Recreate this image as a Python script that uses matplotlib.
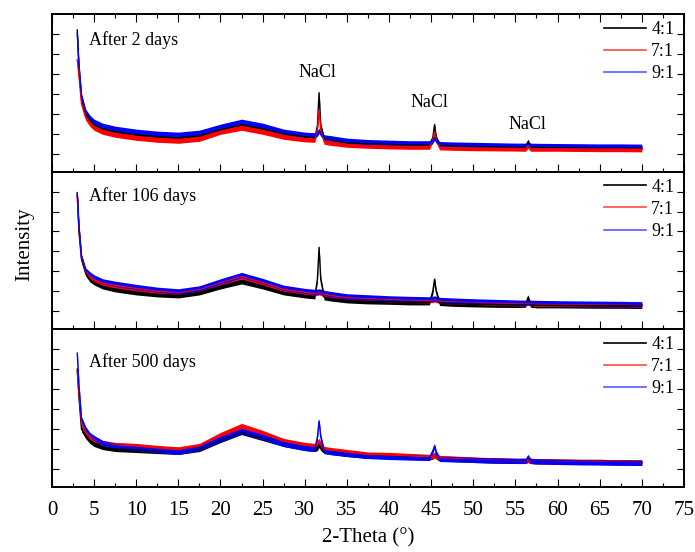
import matplotlib
matplotlib.use("Agg")
import matplotlib.pyplot as plt
from matplotlib.lines import Line2D
from matplotlib.ticker import MultipleLocator

plt.rcParams["font.family"] = ["Liberation Serif", "DejaVu Serif"]

two_theta = [3.0, 3.2, 3.5, 4.0, 4.5, 5, 6, 7.5, 10, 12.5, 15, 17.5, 20, 22.5, 25, 27.5,
             30, 31.2, 31.5, 31.7, 31.9, 32.3, 33, 35, 37.5, 40, 42.5, 44.8, 45.2, 45.4,
             45.6, 46, 47.5, 50, 52.5, 55, 56.2, 56.5, 56.8, 57.5, 60, 62.5, 65, 67.5, 70]

labels = ["4:1", "7:1", "9:1"]
colors = ["black", "red", "blue"]
legend_colors = ["black", "#ff4a4a", "#5a5aff"]
panel_titles = ["After 2 days", "After 106 days", "After 500 days"]

# After 2 days
d2_41 = [7.2, 5.2, 3.8, 3.0, 2.7, 2.45, 2.25, 2.1, 1.95, 1.85, 1.8, 1.9, 2.2, 2.45, 2.25, 2.0,
         1.85, 1.8, 2.4, 4.05, 2.4, 1.75, 1.7, 1.55, 1.5, 1.48, 1.45, 1.45, 1.8, 2.45,
         1.8, 1.42, 1.4, 1.38, 1.35, 1.33, 1.33, 1.6, 1.33, 1.32, 1.3, 1.3, 1.28, 1.28, 1.27]
d2_71 = [5.7, 4.9, 3.5, 2.8, 2.5, 2.3, 2.1, 1.95, 1.8, 1.7, 1.65, 1.75, 2.1, 2.3, 2.1, 1.85,
         1.72, 1.7, 2.2, 3.2, 2.2, 1.6, 1.55, 1.45, 1.4, 1.37, 1.35, 1.35, 1.7, 2.1,
         1.7, 1.32, 1.3, 1.28, 1.27, 1.26, 1.25, 1.4, 1.25, 1.25, 1.25, 1.24, 1.23, 1.23, 1.22]
d2_91 = [7.0, 5.5, 3.9, 3.1, 2.8, 2.6, 2.4, 2.25, 2.1, 2.0, 1.95, 2.05, 2.35, 2.6, 2.4, 2.1,
         1.95, 1.92, 2.0, 2.15, 2.0, 1.82, 1.78, 1.65, 1.58, 1.55, 1.52, 1.52, 1.65, 1.8,
         1.65, 1.48, 1.46, 1.44, 1.42, 1.4, 1.4, 1.45, 1.4, 1.39, 1.38, 1.37, 1.36, 1.36, 1.35]

# After 106 days
d106_41 = [6.9, 5.0, 3.6, 2.9, 2.6, 2.45, 2.25, 2.1, 1.95, 1.85, 1.8, 1.95, 2.25, 2.5, 2.25, 1.95,
           1.8, 1.75, 2.6, 4.2, 2.6, 1.7, 1.65, 1.55, 1.5, 1.48, 1.45, 1.45, 2.0, 2.6,
           2.0, 1.42, 1.38, 1.35, 1.33, 1.32, 1.33, 1.7, 1.33, 1.3, 1.3, 1.29, 1.28, 1.28, 1.27]
d106_71 = [6.8, 5.2, 3.7, 3.0, 2.75, 2.6, 2.4, 2.3, 2.15, 2.0, 1.95, 2.1, 2.45, 2.75, 2.45, 2.1,
           1.95, 1.9, 1.93, 1.95, 1.93, 1.85, 1.8, 1.7, 1.65, 1.6, 1.57, 1.55, 1.57, 1.6,
           1.57, 1.52, 1.5, 1.47, 1.43, 1.4, 1.4, 1.42, 1.4, 1.38, 1.37, 1.36, 1.35, 1.35, 1.33]
d106_91 = [6.95, 5.3, 3.75, 3.05, 2.85, 2.7, 2.5, 2.38, 2.22, 2.08, 2.0, 2.15, 2.5, 2.82, 2.52, 2.18,
           2.02, 1.97, 1.98, 2.0, 1.98, 1.92, 1.87, 1.75, 1.7, 1.65, 1.62, 1.6, 1.62, 1.65,
           1.62, 1.57, 1.54, 1.5, 1.47, 1.44, 1.43, 1.45, 1.43, 1.42, 1.4, 1.39, 1.38, 1.37, 1.35]

# After 500 days
d500_41 = [6.0, 4.6, 3.0, 2.65, 2.4, 2.25, 2.1, 2.0, 1.95, 1.9, 1.85, 2.0, 2.45, 2.85, 2.55, 2.25,
           2.05, 2.0, 2.05, 2.2, 2.05, 1.9, 1.85, 1.75, 1.65, 1.65, 1.6, 1.57, 1.62, 1.7,
           1.62, 1.52, 1.5, 1.45, 1.42, 1.4, 1.4, 1.45, 1.4, 1.38, 1.37, 1.35, 1.35, 1.33, 1.32]
d500_71 = [5.9, 4.8, 3.3, 2.85, 2.6, 2.5, 2.3, 2.2, 2.15, 2.05, 1.98, 2.15, 2.7, 3.15, 2.8, 2.4,
           2.2, 2.15, 2.3, 2.4, 2.25, 2.0, 1.95, 1.85, 1.72, 1.7, 1.65, 1.6, 1.62, 1.7,
           1.62, 1.55, 1.52, 1.47, 1.43, 1.4, 1.4, 1.45, 1.4, 1.38, 1.37, 1.35, 1.35, 1.33, 1.32]
d500_91 = [6.8, 5.2, 3.5, 3.0, 2.7, 2.55, 2.3, 2.15, 2.05, 1.95, 1.85, 2.05, 2.5, 2.9, 2.6, 2.25,
           2.05, 2.0, 2.6, 3.4, 2.6, 1.9, 1.85, 1.75, 1.65, 1.6, 1.57, 1.55, 1.9, 2.15,
           1.8, 1.5, 1.48, 1.45, 1.42, 1.4, 1.4, 1.6, 1.4, 1.38, 1.35, 1.33, 1.32, 1.31, 1.3]

panels = [[d2_41, d2_71, d2_91], [d106_41, d106_71, d106_91], [d500_41, d500_71, d500_91]]
title_y = [0.835, 0.842, 0.79]

# NaCl reflections marked on the top panel
nacl_x = [31.5, 44.75, 56.45]
nacl_y = [0.627, 0.437, 0.297]

fig, axes = plt.subplots(3, 1, figsize=(6.95, 5.52), dpi=100, sharex=True)
fig.subplots_adjust(left=0.0748, right=0.984, bottom=0.118, top=0.9746, hspace=0)

band = 0.13  # half-thickness of the noisy trace
for i, ax in enumerate(axes):
    for ys, c in zip(panels[i], colors):
        lo = [v - band for v in ys]
        hi = [v + band for v in ys]
        ax.fill_between(two_theta, lo, hi, color=c, lw=0)
        ax.plot(two_theta, ys, color=c, lw=1.0)

    ax.set_xlim(0, 75)
    ax.set_ylim(0.1, 8.0)
    ax.set_yticks([1, 2, 3, 4, 5, 6, 7])
    ax.set_yticklabels([])
    ax.xaxis.set_major_locator(MultipleLocator(5))
    ax.xaxis.set_minor_locator(MultipleLocator(2.5))
    ax.tick_params(axis="y", which="both", direction="in", left=True, right=True,
                   length=5, width=0.8)
    ax.tick_params(axis="x", which="major", direction="in", length=6, width=0.8,
                   top=(i == 0), bottom=True, labelsize=15, pad=10)
    ax.tick_params(axis="x", which="minor", direction="in", length=3, width=0.8,
                   top=(i == 0), bottom=True)
    for s in ax.spines.values():
        s.set_linewidth(1.4)

    ax.text(0.0585, title_y[i], panel_titles[i], transform=ax.transAxes,
            ha="left", va="center", fontsize=13)

    handles = [Line2D([], [], color=c, lw=1.2) for c in legend_colors]
    ax.legend(handles, labels, loc="upper right", bbox_to_anchor=(0.985, 0.955),
              frameon=False, fontsize=13, handlelength=2.3, handletextpad=0.3,
              labelspacing=0.28, borderaxespad=0, borderpad=0)

for x, y in zip(nacl_x, nacl_y):
    axes[0].text(x, y, "NaCl", transform=axes[0].get_xaxis_transform(),
                 ha="center", va="center", fontsize=13)

axes[2].set_xlabel("2-Theta (°)", fontsize=15, labelpad=6)
fig.text(0.035, 0.558, "Intensity", rotation=90, ha="center", va="center", fontsize=15)

fig.savefig("out.png", dpi=100)
